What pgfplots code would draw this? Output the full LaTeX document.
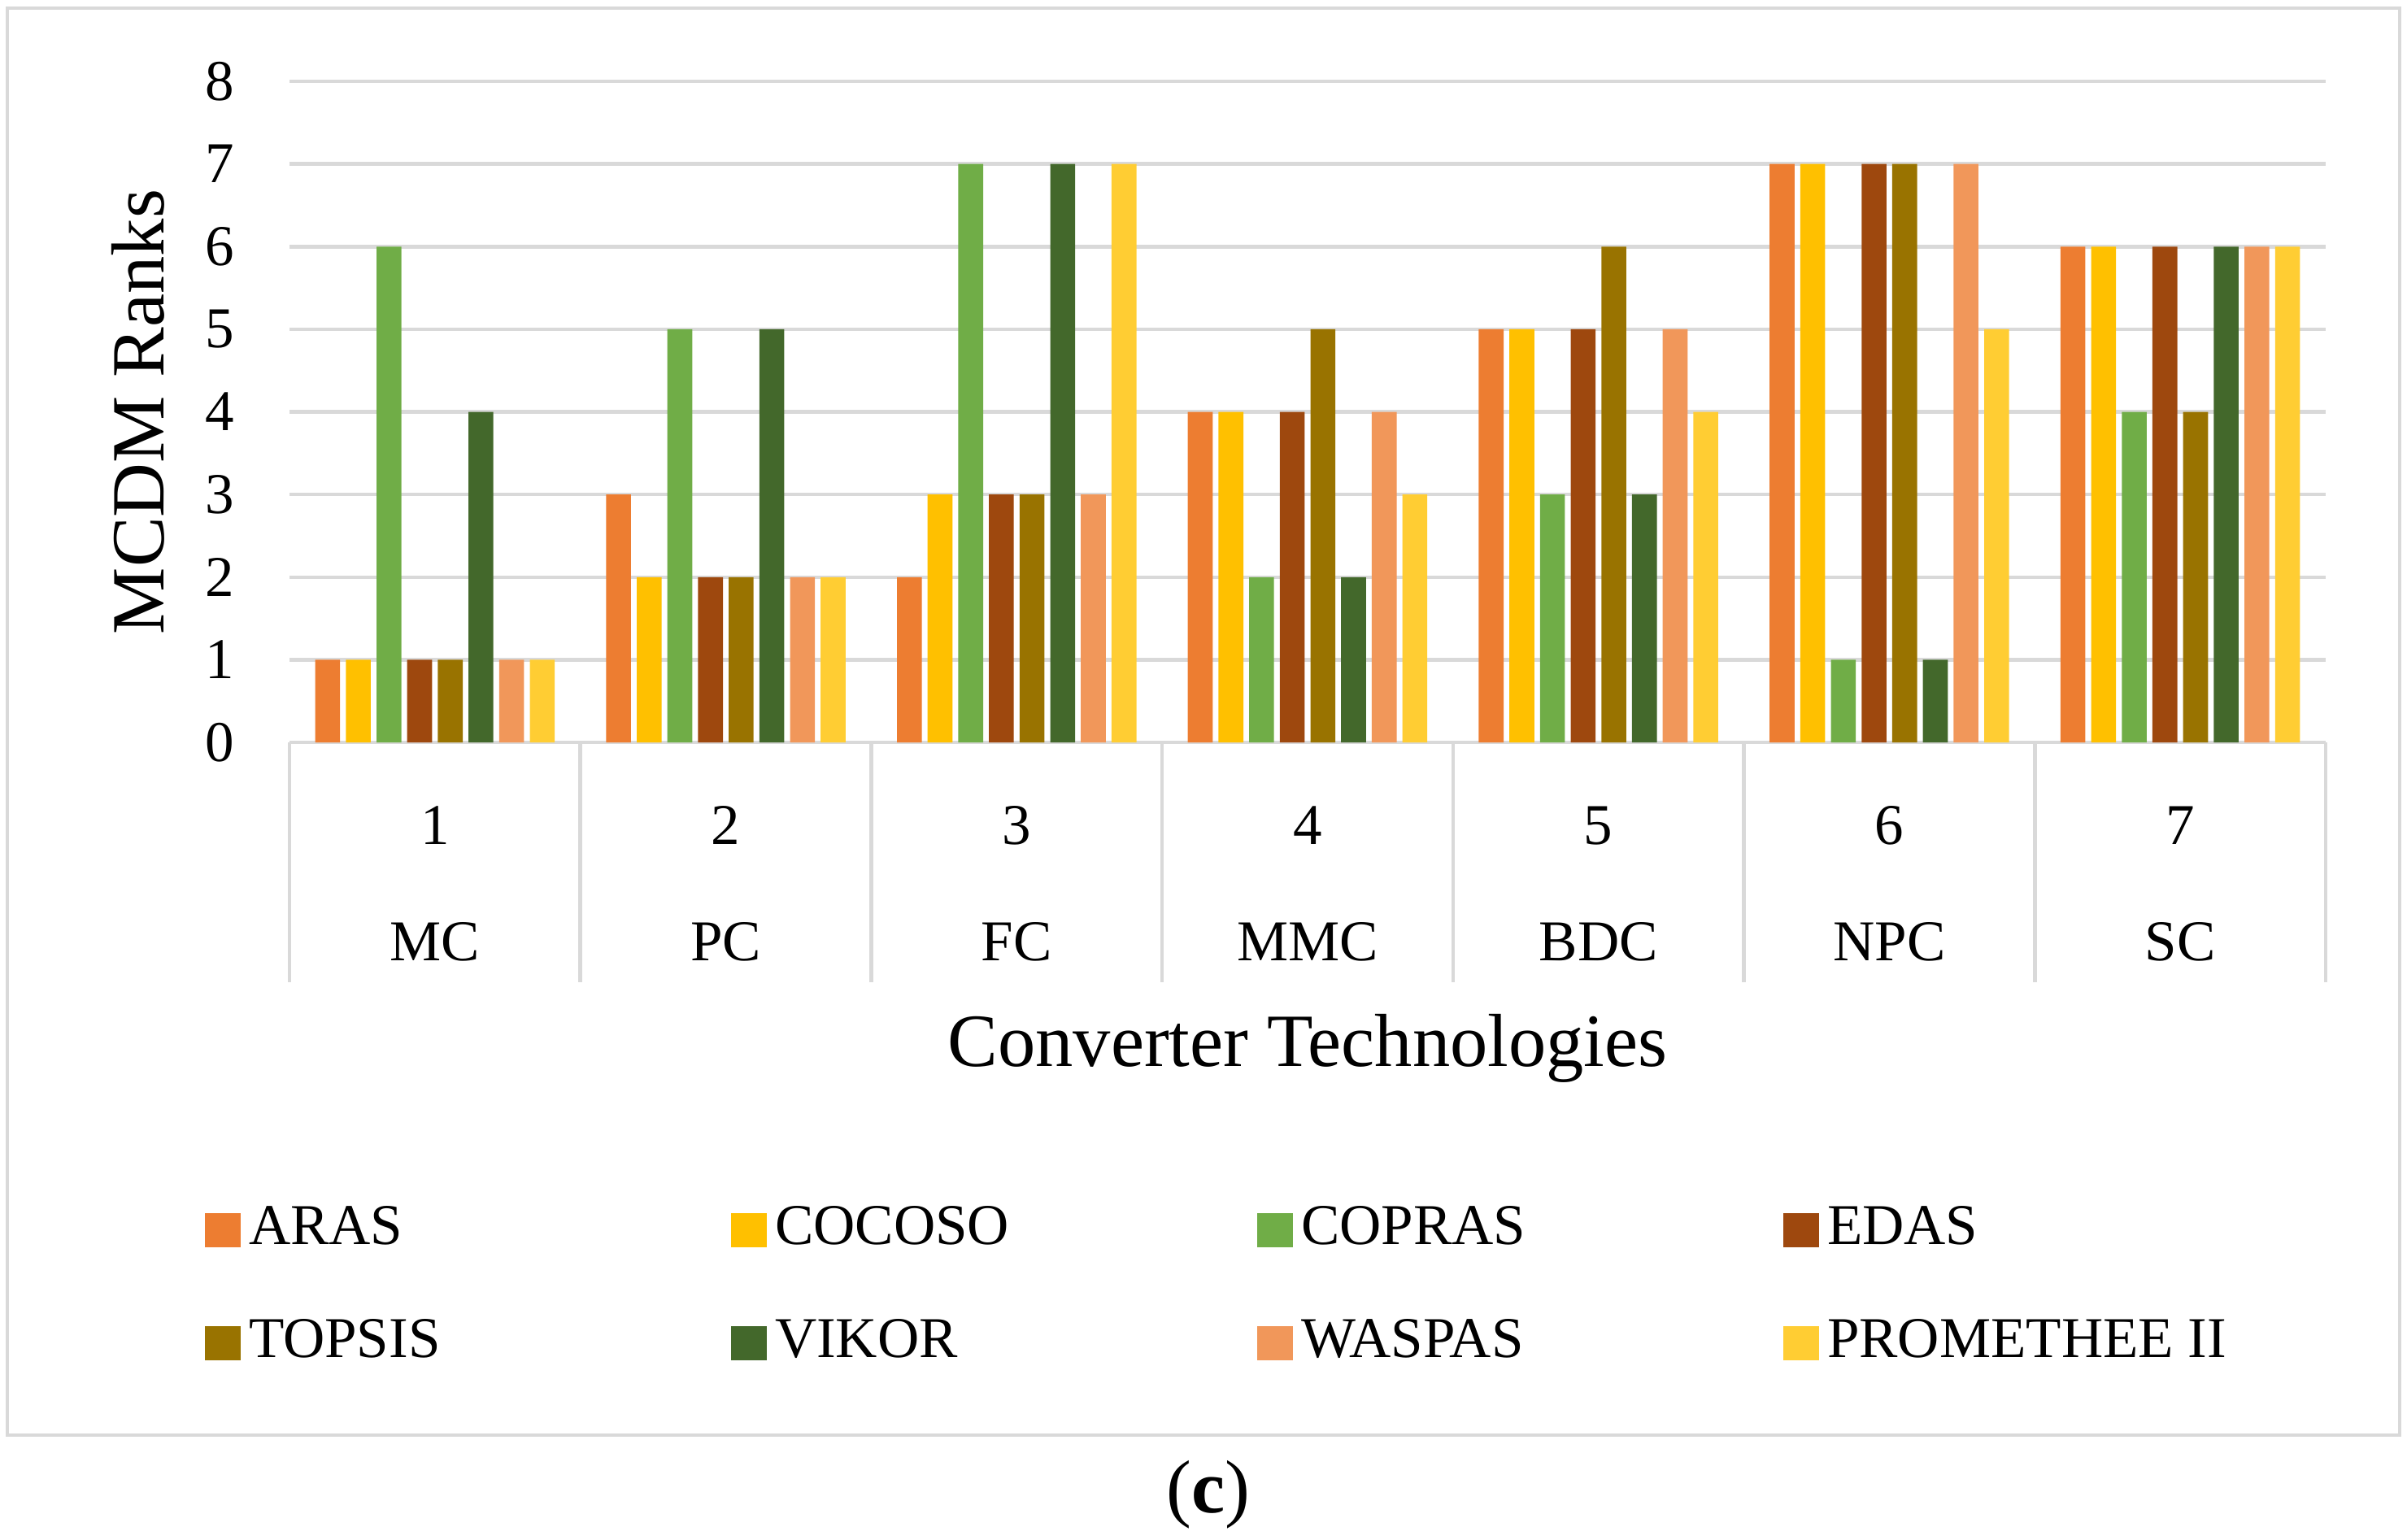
\documentclass[border=0pt]{standalone}
\usepackage{fontspec}
\setmainfont{Liberation Serif}
\usepackage{pgfplots}
\pgfplotsset{compat=1.18}

\definecolor{aras}{HTML}{ED7D31}
\definecolor{cocoso}{HTML}{FFC000}
\definecolor{copras}{HTML}{70AD47}
\definecolor{edas}{HTML}{9E480E}
\definecolor{topsis}{HTML}{997300}
\definecolor{vikor}{HTML}{43682B}
\definecolor{waspas}{HTML}{F1975A}
\definecolor{prom}{HTML}{FFCD33}
\definecolor{gridgray}{HTML}{D9D9D9}

% ranks per method, x = converter index (0..6)
\pgfplotstableread{
x aras cocoso copras edas topsis vikor waspas prom
0 1 1 6 1 1 4 1 1
1 3 2 5 2 2 5 2 2
2 2 3 7 3 3 7 3 7
3 4 4 2 4 5 2 4 3
4 5 5 3 5 6 3 5 4
5 7 7 1 7 7 1 7 5
6 6 6 4 6 4 6 6 6
}\ranks

\newcommand{\lbl}[1]{\makebox[111pt][l]{#1}}

\begin{document}
\begin{tikzpicture}
\path[use as bounding box] (-71.2pt,-196pt) rectangle (520.8pt,182.6pt);
\draw[gridgray, line width=0.8pt] (-69.4pt,-170.4pt) rectangle (519pt,180.6pt);
\begin{axis}[
    scale only axis,
    width=500.8pt, height=162.6pt,
    ybar=1.42pt, bar width=6.12pt,
    xmin=-0.5, xmax=6.5,
    ymin=0, ymax=8,
    ytick={0,...,8},
    xtick={0,...,6},
    xticklabels={{1\\[11.6pt]MC},{2\\[11.6pt]PC},{3\\[11.6pt]FC},{4\\[11.6pt]MMC},{5\\[11.6pt]BDC},{6\\[11.6pt]NPC},{7\\[11.6pt]SC}},
    xticklabel style={align=center, anchor=center, yshift=-30.5pt,
        font=\fontsize{14.2}{17}\selectfont},
    yticklabel style={font=\fontsize{14.2}{17}\selectfont, xshift=-10pt},
    /pgf/number format/assume math mode=true,
    axis line style={draw=none},
    tick style={draw=none},
    ymajorgrids,
    grid style={gridgray, line width=0.9pt},
    clip=false,
    xlabel={Converter Technologies},
    ylabel={MCDM Ranks},
    xlabel style={at={(axis description cs:0.5,-0.463)}, anchor=center,
        font=\fontsize{18.5}{22}\selectfont},
    ylabel style={at={(axis description cs:-0.0743,0.5)}, anchor=center,
        font=\fontsize{18.5}{22}\selectfont},
    legend columns=4,
    legend style={at={(axis description cs:-0.0419,-0.688)}, anchor=north west,
        draw=none, fill=none, inner sep=0pt,
        font=\fontsize{14.2}{17}\selectfont,
        row sep=13pt,
        /tikz/every even column/.append style={column sep=5.6pt}},
    legend image code/.code={\fill[#1] (0pt,-4.6pt) rectangle (8.8pt,3.8pt);},
]
\addplot[fill=aras, draw=none] table[x=x, y=aras] {\ranks};
\addplot[fill=cocoso, draw=none] table[x=x, y=cocoso] {\ranks};
\addplot[fill=copras, draw=none] table[x=x, y=copras] {\ranks};
\addplot[fill=edas, draw=none] table[x=x, y=edas] {\ranks};
\addplot[fill=topsis, draw=none] table[x=x, y=topsis] {\ranks};
\addplot[fill=vikor, draw=none] table[x=x, y=vikor] {\ranks};
\addplot[fill=waspas, draw=none] table[x=x, y=waspas] {\ranks};
\addplot[fill=prom, draw=none] table[x=x, y=prom] {\ranks};
\addlegendentry{\lbl{ARAS}}
\addlegendentry{\lbl{COCOSO}}
\addlegendentry{\lbl{COPRAS}}
\addlegendentry{\lbl{EDAS}}
\addlegendentry{\lbl{TOPSIS}}
\addlegendentry{\lbl{VIKOR}}
\addlegendentry{\lbl{WASPAS}}
\addlegendentry{\lbl{PROMETHEE II}}
% category separators below the axis
\pgfplotsinvokeforeach{-0.5,0.5,1.5,2.5,3.5,4.5,5.5,6.5}{
  \draw[gridgray, line width=0.9pt] (axis cs:#1,0) -- ([yshift=-59pt]axis cs:#1,0);
}
\end{axis}
\node[font=\fontsize{18.5}{22}\selectfont] at (226pt,-185pt) {(\textbf{c})};
\end{tikzpicture}
\end{document}
